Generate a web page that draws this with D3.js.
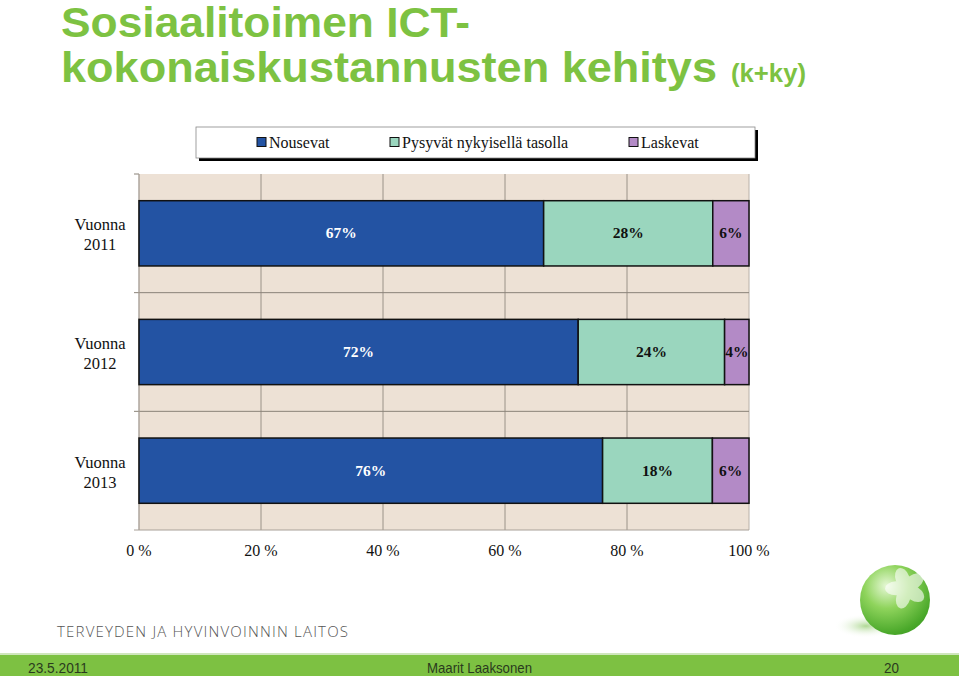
<!DOCTYPE html>
<html><head><meta charset="utf-8">
<script src="https://cdn.jsdelivr.net/npm/d3@7"></script>
<style>
html,body{margin:0;padding:0;background:#fff;}
svg{display:block;}
</style></head>
<body>
<svg id="c" width="959" height="676"></svg>
<script>
const categories = ["Vuonna 2011", "Vuonna 2012", "Vuonna 2013"];
const seriesNames = ["Nousevat", "Pysyvät nykyisellä tasolla", "Laskevat"];
const nousevat = [67, 72, 76];
const pysyvat = [28, 24, 18];
const laskevat = [6, 4, 6];
const xTicks = [0, 20, 40, 60, 80, 100];
const colors = ["#2353A3", "#9AD6BE", "#B38AC6"];

const svg = d3.select("#c");
const serif = "'Liberation Serif','Times New Roman',serif";

// Title
const tf = "'Liberation Sans',Arial,sans-serif";
svg.append("text").attr("x",61).attr("y",36.5).attr("font-family",tf).attr("font-weight","bold")
  .attr("fill","#7DC242").attr("font-size",42).attr("textLength",409).attr("lengthAdjust","spacingAndGlyphs")
  .text("Sosiaalitoimen ICT-");
svg.append("text").attr("x",61).attr("y",82).attr("font-family",tf).attr("font-weight","bold")
  .attr("fill","#7DC242").attr("font-size",43).attr("textLength",656).attr("lengthAdjust","spacingAndGlyphs")
  .text("kokonaiskustannusten kehitys");
svg.append("text").attr("x",731).attr("y",82).attr("font-family",tf).attr("font-weight","bold")
  .attr("fill","#7DC242").attr("font-size",25).attr("textLength",75).attr("lengthAdjust","spacingAndGlyphs")
  .text("(k+ky)");

// Plot
const x0 = 139, x1 = 749, y0 = 174, y1 = 530;
const x = d3.scaleLinear().domain([0,100]).range([x0,x1]);
const y = d3.scaleBand().domain(categories).range([y0,y1]).paddingInner(0.45).paddingOuter(0.225);

svg.append("rect").attr("x",x0).attr("y",y0).attr("width",x1-x0).attr("height",y1-y0).attr("fill","#EDE1D5");

// vertical gridlines
svg.append("g").selectAll("line").data(xTicks).join("line")
  .attr("x1",d=>x(d)).attr("x2",d=>x(d)).attr("y1",y0).attr("y2",y1)
  .attr("stroke",d=>d===0||d===100?"#b8b0a8":"#9a9288").attr("stroke-width",1);

// horizontal band boundaries
const step = (y1-y0)/categories.length;
const bounds = d3.range(categories.length+1).map(i=>y0+i*step);
svg.append("g").selectAll("line").data(bounds.slice(1,-1)).join("line")
  .attr("x1",x0-5).attr("x2",x1).attr("y1",d=>d).attr("y2",d=>d)
  .attr("stroke","#8a8278").attr("stroke-width",1);
svg.append("g").selectAll("line").data([bounds[0]]).join("line")
  .attr("x1",x0-5).attr("x2",x0).attr("y1",d=>d).attr("y2",d=>d)
  .attr("stroke","#8a8278");
svg.append("line").attr("x1",x0-5).attr("x2",x1).attr("y1",y1).attr("y2",y1).attr("stroke","#a8a098");
svg.append("line").attr("x1",x0).attr("x2",x0).attr("y1",y0).attr("y2",y1).attr("stroke","#a8a098");

// stacked data
const rows = categories.map((c,i)=>{
  const vals=[nousevat[i],pysyvat[i],laskevat[i]];
  const tot=d3.sum(vals);
  let acc=0;
  return vals.map((v,j)=>{const s=acc; acc+=v/tot*100; return {cat:c,j,v,s,e:acc};});
});
const segs = rows.flat();
svg.append("g").selectAll("rect").data(segs).join("rect")
  .attr("x",d=>x(d.s)).attr("width",d=>x(d.e)-x(d.s))
  .attr("y",d=>y(d.cat)).attr("height",y.bandwidth())
  .attr("fill",d=>colors[d.j]).attr("stroke","#111").attr("stroke-width",1.5);

svg.append("g").selectAll("text").data(segs).join("text")
  .attr("x",d=>(x(d.s)+x(d.e))/2).attr("y",d=>y(d.cat)+y.bandwidth()/2+5)
  .attr("text-anchor","middle").attr("font-family",serif).attr("font-weight","bold")
  .attr("font-size",15.5).attr("fill",d=>d.j===0?"#fff":"#111").text(d=>d.v+"%");

// category labels
const cl = svg.append("g").selectAll("text").data(categories).join("text")
  .attr("text-anchor","middle").attr("font-family",serif).attr("font-size",16.5).attr("fill","#111");
cl.append("tspan").attr("x",100).attr("y",d=>y(d)+y.bandwidth()/2-3).text(d=>d.split(" ")[0]);
cl.append("tspan").attr("x",100).attr("y",d=>y(d)+y.bandwidth()/2+17).text(d=>d.split(" ")[1]);

// x axis labels
svg.append("g").selectAll("text").data(xTicks).join("text")
  .attr("x",d=>x(d)).attr("y",556).attr("text-anchor","middle")
  .attr("font-family",serif).attr("font-size",16).attr("fill","#111").text(d=>d+" %");

// legend
svg.append("rect").attr("x",199).attr("y",130).attr("width",559).attr("height",31).attr("fill","#000");
svg.append("rect").attr("x",196).attr("y",127).attr("width",559).attr("height",31).attr("fill","#fff").attr("stroke","#888").attr("stroke-width",0.8);
const legX = [257, 390, 629];
const lg = svg.append("g").selectAll("g").data(seriesNames).join("g")
  .attr("transform",(d,i)=>`translate(${legX[i]},136)`);
lg.append("rect").attr("width",9).attr("height",9).attr("y",1.5).attr("fill",(d,i)=>colors[i]).attr("stroke","#111").attr("stroke-width",1);
lg.append("text").attr("x",12).attr("y",11.5).attr("font-family",serif).attr("font-size",16).attr("fill","#111").text(d=>d);

// organization name
svg.append("text").attr("x",57).attr("y",637).attr("font-family","'Open Sans','DejaVu Sans',sans-serif")
  .attr("font-size",15).attr("font-weight",300).attr("fill","#555")
  .attr("textLength",291).attr("lengthAdjust","spacing").text("TERVEYDEN JA HYVINVOINNIN LAITOS");

// footer bar
svg.append("rect").attr("x",0).attr("y",653).attr("width",959).attr("height",2).attr("fill","#cfe6bc");
svg.append("rect").attr("x",0).attr("y",655).attr("width",959).attr("height",21).attr("fill","#7DC142");
const ff = "'Liberation Sans Narrow','Arial Narrow','Liberation Sans',sans-serif";
const foot = [
  {t:"23.5.2011", x:28, w:60},
  {t:"Maarit Laaksonen", x:427, w:105},
  {t:"20", x:884, w:15}
];
svg.append("g").selectAll("text").data(foot).join("text")
  .attr("x",d=>d.x).attr("y",673).attr("font-family",ff).attr("font-size",15).attr("fill","#2a3a1e")
  .attr("textLength",d=>d.w).attr("lengthAdjust","spacingAndGlyphs").text(d=>d.t);

// sphere logo
const defs = svg.append("defs");
const rg = defs.append("radialGradient").attr("id","sph").attr("cx","0.38").attr("cy","0.3").attr("r","0.8");
rg.append("stop").attr("offset","0").attr("stop-color","#e6f8d6");
rg.append("stop").attr("offset","0.4").attr("stop-color","#8fd45c");
rg.append("stop").attr("offset","0.85").attr("stop-color","#4aa82a");
rg.append("stop").attr("offset","1").attr("stop-color","#3d9a22");
const sg = defs.append("radialGradient").attr("id","shd");
sg.append("stop").attr("offset","0").attr("stop-color","#a6d488").attr("stop-opacity",0.9);
sg.append("stop").attr("offset","1").attr("stop-color","#fff").attr("stop-opacity",0);
svg.append("ellipse").attr("cx",866).attr("cy",626).attr("rx",32).attr("ry",12).attr("fill","url(#shd)");
svg.append("circle").attr("cx",895).attr("cy",600).attr("r",35).attr("fill","url(#sph)");
const petal = svg.append("g").attr("transform","translate(906,588)").attr("fill","#fff").attr("opacity",0.6);
[0,72,144,216,288].forEach(a=>petal.append("ellipse").attr("cx",0).attr("cy",-10).attr("rx",7).attr("ry",11).attr("transform",`rotate(${a-20})`));
</script>
</body></html>
